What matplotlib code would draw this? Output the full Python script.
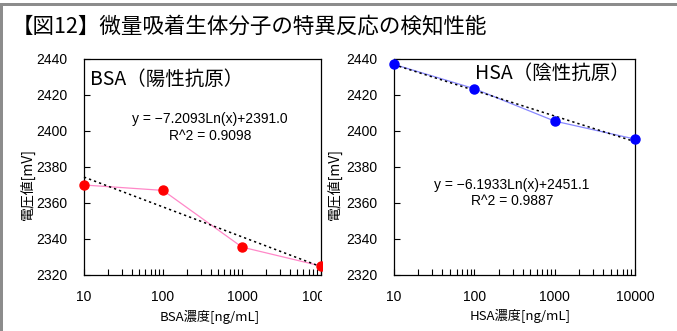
import numpy as np
import matplotlib
matplotlib.use("Agg")
import matplotlib.pyplot as plt
from matplotlib.patches import Rectangle
from matplotlib.transforms import Bbox, TransformedBbox
from matplotlib.ticker import LogLocator, NullFormatter, FixedLocator

# ---------------- data ----------------
concentrations = [10, 100, 1000, 10000]          # ng/mL
bsa_voltage = [2370, 2367, 2335.5, 2325]           # mV
hsa_voltage = [2437, 2423.5, 2405.5, 2395.5]       # mV
bsa_fit = [-7.2093, 2391.0]                        # y = a*ln(x)+b
hsa_fit = [-6.1933, 2451.1]
bsa_eq = ["y = \u22127.2093Ln(x)+2391.0", "R^2 = 0.9098"]
hsa_eq = ["y = \u22126.1933Ln(x)+2451.1", "R^2 = 0.9887"]
x_ticks = [10, 100, 1000, 10000]
x_tick_labels = ["10", "100", "1000", "10000"]
y_ticks = [2320, 2340, 2360, 2380, 2400, 2420, 2440]
title = "【図12】微量吸着生体分子の特異反応の検知性能"
bsa_title = "BSA（陽性抗原）"
hsa_title = "HSA（陰性抗原）"
bsa_xlabel = "BSA濃度[ng/mL]"
hsa_xlabel = "HSA濃度[ng/mL]"
ylabel = "電圧値[mV]"

CJK = ["Noto Sans CJK JP", "DejaVu Sans"]
NUM = ["Liberation Sans", "DejaVu Sans"]

W, H = 677, 331
fig = plt.figure(figsize=(W / 100, H / 100), dpi=100)
fig.patch.set_facecolor("white")


def fx(px):
    return px / W


def fy(py):
    return 1 - py / H


# gray border (top and left)
fig.patches.append(Rectangle((0, fy(6)), 1, 3 / H, transform=fig.transFigure,
                             facecolor="#8c8c8c", edgecolor="none", zorder=10))
fig.patches.append(Rectangle((0, 0), 2.5 / W, fy(4), transform=fig.transFigure,
                             facecolor="#8c8c8c", edgecolor="none", zorder=10))

fig.text(fx(12), fy(26), title, family=CJK, fontsize=15.5, va="center", ha="left")

clip_left = TransformedBbox(Bbox.from_extents(0, 0, fx(321.5), 1), fig.transFigure)


def make_axes(x0, x1, y0, y1):
    ax = fig.add_axes([fx(x0), fy(y1), fx(x1) - fx(x0), fy(y0) - fy(y1)])
    ax.set_xscale("log")
    ax.set_xlim(10, 10000)
    ax.set_ylim(2320, 2440)
    ax.xaxis.set_major_locator(FixedLocator(x_ticks))
    ax.set_xticklabels(x_tick_labels, family=NUM, fontsize=10)
    ax.xaxis.set_minor_locator(LogLocator(base=10, subs=np.arange(2, 10)))
    ax.xaxis.set_minor_formatter(NullFormatter())
    ax.set_yticks(y_ticks)
    ax.set_yticklabels([str(v) for v in y_ticks], family=NUM, fontsize=10)
    ax.tick_params(axis="both", which="both", direction="in", length=4.5,
                   width=0.8, color="black")
    ax.tick_params(axis="x", which="major", pad=11)
    ax.tick_params(axis="y", which="major", pad=12)
    for s in ax.spines.values():
        s.set_linewidth(0.9)
        s.set_color("black")
    return ax


def draw_panel(ax, volts, fit, line_color, marker_color, clipbox):
    xs = np.array(concentrations, dtype=float)
    xf = np.logspace(np.log10(xs[0]), np.log10(xs[-1]), 200)
    trend = ax.plot(xf, fit[0] * np.log(xf) + fit[1], color="black",
                    linestyle=(0, (1.5, 2.0)), linewidth=1.1, zorder=3)[0]
    ln = ax.plot(xs, volts, color=line_color, linewidth=0.9, zorder=2)[0]
    mk = ax.plot(xs, volts, linestyle="none", marker="o", markersize=6.5,
                 color=marker_color, zorder=4)[0]
    for a in (trend, ln, mk):
        if clipbox is None:
            a.set_clip_on(False)
        else:
            a.set_clip_on(True)
            a.set_clip_box(clipbox)


ax1 = make_axes(84, 321, 59, 275)
draw_panel(ax1, bsa_voltage, bsa_fit, "#FF88C8", "#FF0000", clip_left)
for t in ax1.xaxis.get_major_ticks():
    t.label1.set_clip_on(True)
    t.label1.set_clip_box(clip_left)

ax2 = make_axes(394, 635, 59, 275)
draw_panel(ax2, hsa_voltage, hsa_fit, "#8888FF", "#0000FF", None)

# panel titles
fig.text(fx(90), fy(79), bsa_title, family=CJK, fontsize=14, ha="left", va="center")
fig.text(fx(630), fy(73), hsa_title, family=CJK, fontsize=14, ha="right", va="center")

# equations
fig.text(fx(210), fy(119), bsa_eq[0], family=NUM, fontsize=10, ha="center", va="center")
fig.text(fx(210), fy(136), bsa_eq[1], family=NUM, fontsize=10, ha="center", va="center")
fig.text(fx(512), fy(185), hsa_eq[0], family=NUM, fontsize=10, ha="center", va="center")
fig.text(fx(512), fy(201), hsa_eq[1], family=NUM, fontsize=10, ha="center", va="center")

# axis labels
fig.text(fx(210), fy(317), bsa_xlabel, family=CJK, fontsize=9.5, ha="center", va="center")
fig.text(fx(520), fy(316), hsa_xlabel, family=CJK, fontsize=9.5, ha="center", va="center")
fig.text(fx(27), fy(184), ylabel, family=CJK, fontsize=10, ha="center", va="center",
         rotation=90)
fig.text(fx(334), fy(184), ylabel, family=CJK, fontsize=10, ha="center", va="center",
         rotation=90)

fig.savefig("out.png", dpi=100, facecolor="white")
